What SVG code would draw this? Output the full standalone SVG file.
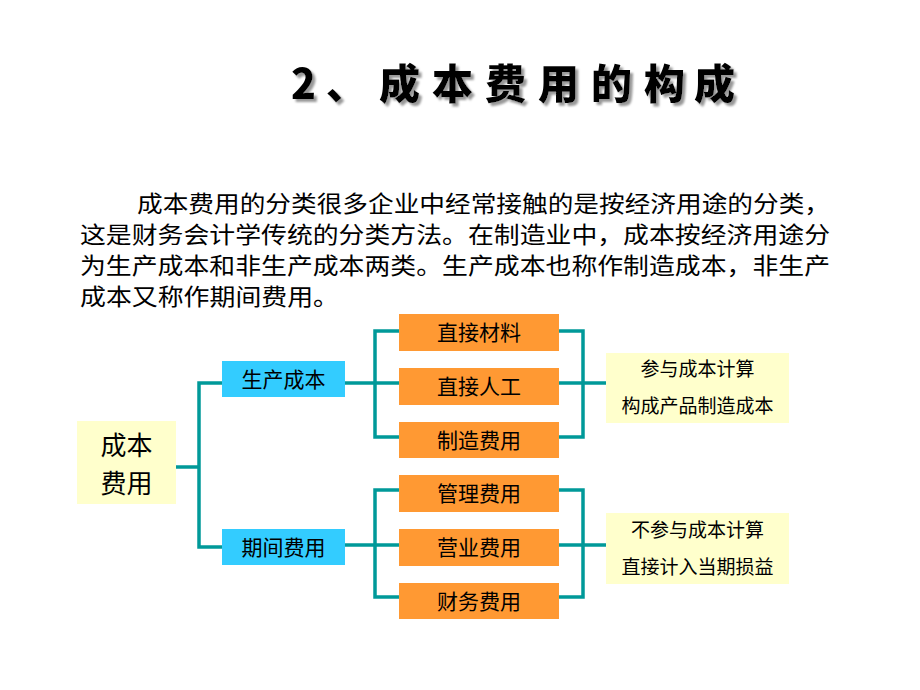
<svg xmlns="http://www.w3.org/2000/svg" width="920" height="690" viewBox="0 0 920 690">
<defs>
<filter id="shadow" x="-5%" y="-20%" width="115%" height="150%">
<feDropShadow dx="3" dy="3" stdDeviation="1" flood-color="#999" flood-opacity="1"/>
</filter>
</defs>
<style>
.cjk{font-family:"Noto Sans CJK SC","Noto Sans CJK JP",sans-serif;fill:#000}
.title{font-size:41px;font-weight:900}
.para{font-size:23px}
.box{font-size:21px;text-anchor:middle}
.note{font-size:19px;text-anchor:middle}
.conn{fill:none;stroke:#009999;stroke-width:3.5}
.orange{fill:#FF9933}
.cyan{fill:#33CCFF}
.pale{fill:#FFFFCC}
</style>
<rect width="920" height="690" fill="#fff"/>
<g id="title" filter="url(#shadow)">
<text class="cjk title" x="291 326 379 432 485 538 591 644 694" y="99">2、成本费用的构成</text>
</g>
<g id="paragraph">
<text class="cjk para" x="137" y="212" textLength="693" lengthAdjust="spacingAndGlyphs">成本费用的分类很多企业中经常接触的是按经济用途的分类，</text>
<text class="cjk para" x="80" y="243" textLength="750" lengthAdjust="spacingAndGlyphs">这是财务会计学传统的分类方法。在制造业中，成本按经济用途分</text>
<text class="cjk para" x="80" y="274" textLength="750" lengthAdjust="spacingAndGlyphs">为生产成本和非生产成本两类。生产成本也称作制造成本，非生产</text>
<text class="cjk para" x="80" y="305" textLength="259" lengthAdjust="spacingAndGlyphs">成本又称作期间费用。</text>
</g>
<g id="connectors">
<polyline class="conn" points="176,467 199,467"/>
<polyline class="conn" points="222,383 199,383 199,547 222,547"/>
<polyline class="conn" points="345,383 399,383"/>
<polyline class="conn" points="399,331 375,331 375,437 399,437"/>
<polyline class="conn" points="559,331 583,331 583,437 559,437"/>
<polyline class="conn" points="559,383 606,383"/>
<polyline class="conn" points="345,545 399,545"/>
<polyline class="conn" points="399,490 375,490 375,597 399,597"/>
<polyline class="conn" points="559,490 583,490 583,597 559,597"/>
<polyline class="conn" points="559,545 606,545"/>
</g>
<g id="root">
<rect class="pale" x="77" y="421" width="99" height="83"/>
<text class="cjk" font-size="26" text-anchor="middle"><tspan x="126.5" y="455">成本</tspan><tspan x="126.5" y="493">费用</tspan></text>
</g>
<g id="production">
<rect class="cyan" x="222" y="361" width="123" height="36"/>
<text class="cjk box" x="283.5" y="387">生产成本</text>
</g>
<g id="period">
<rect class="cyan" x="222" y="529" width="123" height="36"/>
<text class="cjk box" x="283.5" y="555">期间费用</text>
</g>
<g id="material">
<rect class="orange" x="399" y="314" width="160" height="37"/>
<text class="cjk box" x="479" y="340">直接材料</text>
</g>
<g id="labor">
<rect class="orange" x="399" y="368" width="160" height="37"/>
<text class="cjk box" x="479" y="394">直接人工</text>
</g>
<g id="overhead">
<rect class="orange" x="399" y="422" width="160" height="36"/>
<text class="cjk box" x="479" y="448">制造费用</text>
</g>
<g id="admin">
<rect class="orange" x="399" y="475" width="160" height="37"/>
<text class="cjk box" x="479" y="501">管理费用</text>
</g>
<g id="sales">
<rect class="orange" x="399" y="529" width="160" height="37"/>
<text class="cjk box" x="479" y="555">营业费用</text>
</g>
<g id="finance">
<rect class="orange" x="399" y="583" width="160" height="36"/>
<text class="cjk box" x="479" y="609">财务费用</text>
</g>
<g id="note1">
<rect class="pale" x="606" y="353" width="183" height="70"/>
<text class="cjk note" x="697.5" y="376">参与成本计算</text>
<text class="cjk note" x="697.5" y="413">构成产品制造成本</text>
</g>
<g id="note2">
<rect class="pale" x="606" y="513" width="183" height="71"/>
<text class="cjk note" x="697.5" y="537">不参与成本计算</text>
<text class="cjk note" x="697.5" y="574">直接计入当期损益</text>
</g>
</svg>
